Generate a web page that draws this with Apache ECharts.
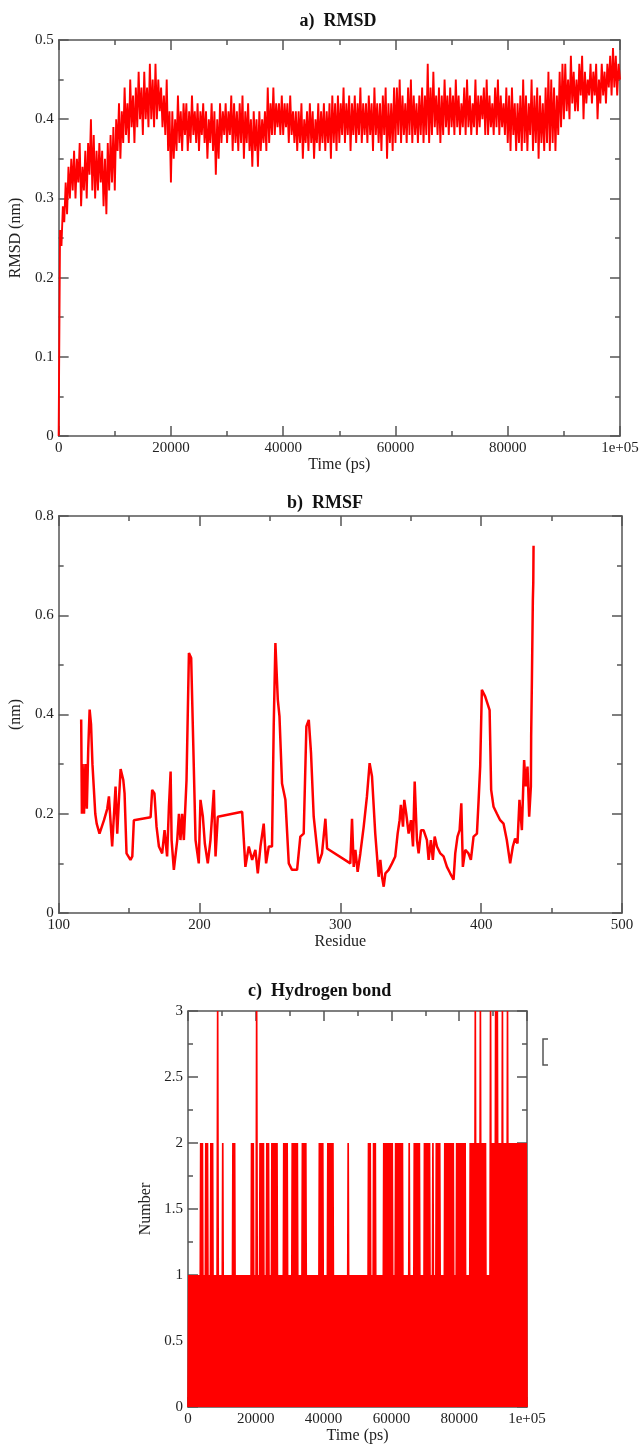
<!DOCTYPE html>
<html><head><meta charset="utf-8">
<script src="https://cdn.jsdelivr.net/npm/echarts@6/dist/echarts.min.js"></script>
<style>html,body{margin:0;padding:0;background:#fff}#c{width:642px;height:1445px}</style>
</head><body><div id="c"></div>
<script>
// ---------- a) RMSD : one sample every 250 ps ----------
const rmsdStepPs = 250;
const rmsdValues = [
0.00,0.26,0.24,0.29,0.27,0.32,0.28,0.34,0.30,0.35,
0.31,0.36,0.30,0.35,0.32,0.37,0.29,0.34,0.31,0.36,
0.30,0.37,0.33,0.40,0.31,0.38,0.30,0.36,0.31,0.37,
0.32,0.36,0.29,0.35,0.28,0.37,0.31,0.38,0.32,0.39,
0.31,0.40,0.36,0.42,0.35,0.41,0.37,0.44,0.38,0.42,
0.37,0.45,0.39,0.43,0.37,0.44,0.39,0.46,0.40,0.44,
0.38,0.46,0.40,0.44,0.39,0.47,0.40,0.45,0.39,0.47,
0.40,0.45,0.41,0.44,0.39,0.43,0.38,0.45,0.36,0.41,
0.32,0.41,0.35,0.40,0.36,0.43,0.37,0.41,0.36,0.42,
0.38,0.42,0.36,0.41,0.37,0.43,0.38,0.41,0.37,0.42,
0.36,0.41,0.38,0.42,0.37,0.41,0.35,0.40,0.37,0.42,
0.36,0.41,0.33,0.40,0.35,0.42,0.37,0.41,0.38,0.42,
0.37,0.41,0.38,0.43,0.36,0.42,0.37,0.41,0.36,0.42,
0.37,0.43,0.35,0.41,0.37,0.42,0.36,0.40,0.34,0.41,
0.36,0.40,0.34,0.41,0.36,0.40,0.37,0.41,0.36,0.44,
0.37,0.42,0.38,0.44,0.38,0.42,0.39,0.42,0.38,0.43,
0.38,0.42,0.39,0.42,0.37,0.43,0.38,0.41,0.37,0.41,
0.36,0.41,0.37,0.42,0.35,0.40,0.37,0.41,0.36,0.42,
0.37,0.41,0.35,0.40,0.37,0.42,0.36,0.41,0.37,0.42,
0.36,0.41,0.37,0.42,0.35,0.43,0.37,0.42,0.36,0.43,
0.37,0.42,0.38,0.44,0.37,0.42,0.38,0.43,0.36,0.42,
0.38,0.43,0.37,0.42,0.38,0.44,0.37,0.42,0.38,0.42,
0.37,0.43,0.38,0.42,0.36,0.44,0.38,0.42,0.37,0.42,
0.36,0.43,0.38,0.44,0.35,0.42,0.37,0.42,0.36,0.44,
0.37,0.44,0.38,0.45,0.37,0.43,0.38,0.42,0.37,0.44,
0.38,0.45,0.37,0.43,0.38,0.42,0.37,0.43,0.38,0.44,
0.37,0.43,0.38,0.47,0.37,0.44,0.38,0.46,0.39,0.43,
0.38,0.44,0.37,0.43,0.38,0.45,0.39,0.43,0.38,0.44,
0.39,0.43,0.38,0.45,0.39,0.43,0.38,0.42,0.39,0.44,
0.38,0.45,0.39,0.43,0.38,0.42,0.39,0.45,0.38,0.43,
0.39,0.43,0.40,0.44,0.38,0.45,0.38,0.43,0.39,0.42,
0.38,0.44,0.39,0.45,0.38,0.43,0.39,0.42,0.38,0.44,
0.37,0.43,0.36,0.44,0.38,0.42,0.36,0.42,0.37,0.43,
0.36,0.45,0.37,0.43,0.36,0.42,0.38,0.45,0.36,0.43,
0.37,0.44,0.35,0.43,0.37,0.42,0.36,0.44,0.37,0.46,
0.36,0.45,0.37,0.44,0.36,0.43,0.38,0.46,0.39,0.47,
0.40,0.47,0.41,0.45,0.40,0.48,0.42,0.46,0.41,0.45,
0.41,0.47,0.43,0.48,0.40,0.46,0.42,0.45,0.43,0.47,
0.42,0.46,0.43,0.47,0.40,0.45,0.42,0.47,0.43,0.46,
0.42,0.47,0.44,0.48,0.43,0.49,0.44,0.48,0.43,0.47,
0.45
];

// ---------- b) RMSF ----------
const rmsfResidues = [
116,116.5,117,118,119,120,121,122,123,124,125,126,127,128,129,
130,132.2,134.5,135.7,138,140.4,141.6,142.8,144,145.9,146.8,148.2,151,152.3,153.4,
165.3,166.4,168,169.5,171.2,173.5,175.2,177,178.3,179.5,180.2,181.8,184.2,185.4,186.5,187.7,188.9,
190.8,192.5,194.1,195.5,197.2,199.5,200.7,202.4,203.8,205.9,207.8,210.2,211.4,213,214.4,
230.3,232.6,235,237.4,239.7,241.4,243.3,245.6,247.3,249.2,251.5,252.7,253.9,255.6,256.8,258.6,
261,263.4,265.7,269.3,271.6,274,275.9,277.6,279.2,281.1,284.6,287,289.4,290.6,
307.1,308.3,309.5,310.7,312.3,314.2,316.6,318.9,320.8,322.5,324.8,327.2,
328.4,329.6,330.8,332,334.3,336.7,339,340.7,342.1,343,344.5,345.4,346.8,348.5,350.2,351.6,352.8,
354.4,355.6,357.3,359.1,361.5,362.7,364.3,365.7,367,368.6,371,373.3,375.7,378,380.4,381.6,383.2,
384.7,385.9,387,388.7,391,392.7,394.6,397,398.2,399.3,400.5,402.9,406,407.1,408.8,411.2,413.5,
415.9,418.2,420.6,422.5,424.1,425.8,427.2,428.9,430.5,431.7,432.9,434.1,435.3,435.5,436,436.7,437,437.2
];
const rmsfValues = [
0.39,0.20,0.30,0.20,0.30,0.21,0.33,0.41,0.38,0.30,0.25,0.20,0.18,0.17,0.16,
0.16,0.187,0.21,0.235,0.134,0.255,0.16,0.228,0.29,0.268,0.241,0.12,0.107,0.114,0.187,
0.193,0.248,0.241,0.174,0.134,0.12,0.167,0.114,0.214,0.285,0.147,0.087,0.147,0.20,0.147,0.20,0.147,
0.268,0.524,0.514,0.349,0.147,0.10,0.228,0.194,0.14,0.10,0.147,0.248,0.114,0.194,0.194,
0.204,0.093,0.134,0.107,0.127,0.08,0.134,0.18,0.10,0.134,0.134,0.376,0.544,0.43,0.396,0.261,
0.228,0.10,0.087,0.087,0.154,0.16,0.376,0.389,0.322,0.194,0.10,0.12,0.19,0.13,
0.10,0.19,0.093,0.127,0.083,0.12,0.174,0.235,0.302,0.275,0.16,0.073,
0.107,0.073,0.053,0.08,0.087,0.10,0.114,0.16,0.187,0.218,0.174,0.228,0.20,0.16,0.187,0.134,0.265,
0.147,0.12,0.167,0.167,0.147,0.107,0.147,0.107,0.154,0.134,0.12,0.114,0.093,0.08,0.067,0.12,0.154,
0.167,0.221,0.093,0.127,0.12,0.107,0.154,0.16,0.228,0.295,0.45,0.436,0.409,0.248,0.214,0.20,0.187,
0.18,0.147,0.10,0.134,0.15,0.14,0.228,0.167,0.308,0.255,0.295,0.194,0.255,0.355,0.463,0.631,0.665,0.74
];

// ---------- c) Hydrogen bonds : one sample every 250 ps ----------
const hbondStepPs = 250;
const hbondValues = [
0,1,0,1,0,1,0,1,0,1,0,1,0,1,0,2,0,2,0,1,
0,2,0,2,0,1,0,2,0,2,0,1,0,1,0,3,0,1,0,1,
0,2,0,1,0,1,0,1,0,1,0,1,0,2,0,2,0,1,0,1,
0,1,0,1,0,1,0,1,0,1,0,1,0,1,0,2,0,2,0,1,
0,3,0,1,0,2,0,2,0,2,0,1,0,2,0,2,0,1,0,2,
0,2,0,2,0,2,0,1,0,1,0,1,0,2,0,2,0,2,0,1,
0,1,0,2,0,2,0,2,0,2,0,1,0,1,0,2,0,2,0,2,
0,1,0,1,0,1,0,1,0,1,0,1,0,1,0,2,0,2,0,2,
0,1,0,1,0,2,0,2,0,2,0,2,0,1,0,1,0,1,0,1,
0,1,0,1,0,1,0,1,0,2,0,1,0,1,0,1,0,1,0,1,
0,1,0,1,0,1,0,1,0,1,0,1,0,2,0,2,0,1,0,2,
0,2,0,1,0,1,0,1,0,1,0,2,0,2,0,2,0,2,0,2,
0,2,0,1,0,2,0,2,0,2,0,2,0,2,0,1,0,1,0,1,
0,2,0,1,0,1,0,2,0,2,0,2,0,2,0,1,0,1,0,2,
0,2,0,2,0,2,0,1,0,2,0,1,0,2,0,2,0,2,0,1,
0,1,0,2,0,2,0,2,0,2,0,2,0,2,0,1,0,2,0,2,
0,2,0,2,0,2,0,2,0,1,0,1,0,2,0,2,0,2,0,3,
0,2,0,2,0,3,0,2,0,2,0,2,0,1,0,1,0,3,0,2,
0,2,0,3,0,3,0,2,0,2,0,3,0,2,0,2,0,3,0,2,
0,2,0,2,0,2,0,2,0,2,0,2,0,2,0,2,0,2,0,2,
0
];

const FONT = '"Liberation Serif","Times New Roman",serif';
const AX = '#555';
const TXT = '#222';
const timeFmt = v => (v === 100000 ? '1e+05' : String(v));
const numFmt = v => String(+v.toFixed(2));

function xAxes(grid, min, max, interval, name, fmt) {
  const common = {
    type: 'value', gridIndex: grid, min, max, interval,
    axisLine: {show: true, onZero: false, lineStyle: {color: AX, width: 1.5}},
    axisTick: {show: true, inside: true, length: 10, lineStyle: {color: AX, width: 1.5}},
    minorTick: {show: true, splitNumber: 2, length: 5, lineStyle: {color: AX, width: 1.5}},
    splitLine: {show: false}, minorSplitLine: {show: false}
  };
  return [
    Object.assign({}, common, {
      position: 'bottom', name, nameLocation: 'middle', nameGap: 21,
      nameTextStyle: {fontFamily: FONT, fontSize: 16, color: TXT},
      axisLabel: {fontFamily: FONT, fontSize: 15, color: TXT, margin: 5, formatter: fmt, showMinLabel: true, showMaxLabel: true}
    }),
    Object.assign({}, common, {position: 'top', axisLabel: {show: false}})
  ];
}
function yAxes(grid, min, max, interval, name, gap) {
  const common = {
    type: 'value', gridIndex: grid, min, max, interval,
    axisLine: {show: true, onZero: false, lineStyle: {color: AX, width: 1.5}},
    axisTick: {show: true, inside: true, length: 10, lineStyle: {color: AX, width: 1.5}},
    minorTick: {show: true, splitNumber: 2, length: 5, lineStyle: {color: AX, width: 1.5}},
    splitLine: {show: false}, minorSplitLine: {show: false}
  };
  return [
    Object.assign({}, common, {
      position: 'left', name, nameLocation: 'middle', nameGap: gap,
      nameTextStyle: {fontFamily: FONT, fontSize: 16, color: TXT},
      axisLabel: {fontFamily: FONT, fontSize: 15, color: TXT, margin: 5, formatter: numFmt, showMinLabel: true, showMaxLabel: true}
    }),
    Object.assign({}, common, {position: 'right', axisLabel: {show: false}})
  ];
}

const rmsdData = rmsdValues.map((v, i) => [i * rmsdStepPs, v]);
const rmsfData = rmsfResidues.map((r, i) => [r, rmsfValues[i]]);
const hbondData = hbondValues.map((v, i) => [i * hbondStepPs, v]);

const chart = echarts.init(document.getElementById('c'), null, {renderer: 'canvas'});
chart.setOption({
  animation: false,
  backgroundColor: '#fff',
  grid: [
    {left: 55, right: 22, top: 40, height: 396},
    {left: 58, right: 20, top: 516, height: 397},
    {left: 188, right: 115, top: 1011, height: 396}
  ],
  xAxis: [].concat(
    xAxes(0, 0, 100000, 20000, 'Time (ps)', timeFmt),
    xAxes(1, 100, 500, 100, 'Residue', v => String(v)),
    xAxes(2, 0, 100000, 20000, 'Time (ps)', timeFmt)
  ),
  yAxis: [].concat(
    yAxes(0, 0, 0.5, 0.1, 'RMSD (nm)', 30),
    yAxes(1, 0, 0.8, 0.2, '(nm)', 30),
    yAxes(2, 0, 3, 0.5, 'Number', 27)
  ),
  series: [
    {type: 'line', xAxisIndex: 0, yAxisIndex: 0, data: rmsdData, showSymbol: false, symbol: 'none',
     lineStyle: {color: '#ff0000', width: 1.9, join: 'bevel'}, sampling: null, silent: true},
    {type: 'line', xAxisIndex: 2, yAxisIndex: 2, data: rmsfData, showSymbol: false, symbol: 'none',
     lineStyle: {color: '#ff0000', width: 2.5}, silent: true},
    {type: 'line', xAxisIndex: 4, yAxisIndex: 4, data: hbondData, showSymbol: false, symbol: 'none',
     lineStyle: {color: '#ff0000', width: 1.7, join: 'bevel'}, silent: true}
  ],
  graphic: [
    {type: 'text', x: 338, y: 21, style: {text: 'a)  RMSD', font: 'bold 18px ' + FONT, fill: '#111', align: 'center', verticalAlign: 'middle', textAlign: 'center', textVerticalAlign: 'middle'}},
    {type: 'text', x: 325, y: 503, style: {text: 'b)  RMSF', font: 'bold 18px ' + FONT, fill: '#111', align: 'center', verticalAlign: 'middle', textAlign: 'center', textVerticalAlign: 'middle'}},
    {type: 'text', x: 248, y: 991, style: {text: 'c)  Hydrogen bond', font: 'bold 18px ' + FONT, fill: '#111', align: 'left', verticalAlign: 'middle', textAlign: 'left', textVerticalAlign: 'middle'}},
    {type: 'polyline', shape: {points: [[548, 1039], [543, 1039], [543, 1065], [548, 1065]]}, style: {stroke: '#555', lineWidth: 1.5, fill: null}}
  ]
});
</script>
</body></html>
